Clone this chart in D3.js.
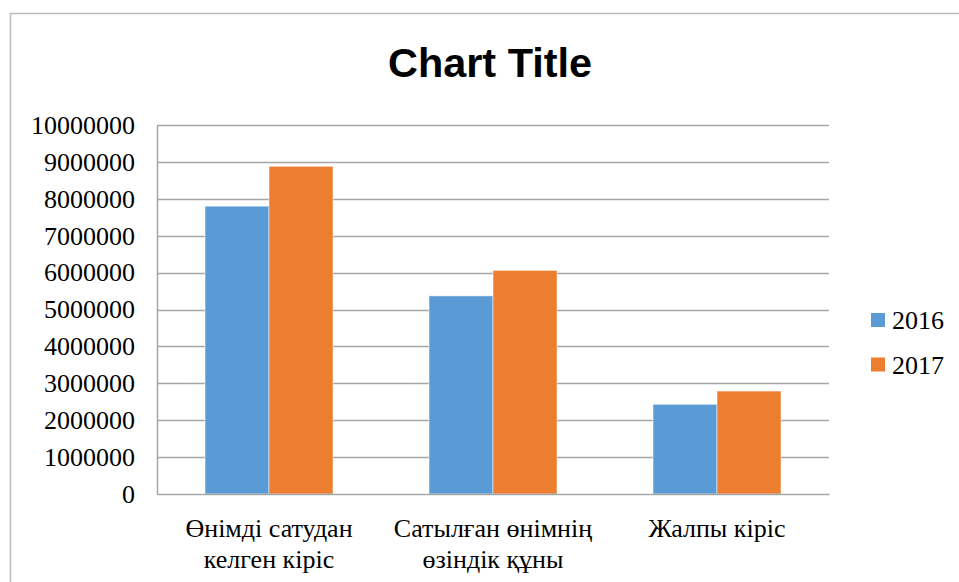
<!DOCTYPE html>
<html>
<head>
<meta charset="utf-8">
<script src="https://cdn.jsdelivr.net/npm/d3@7"></script>
<style>
  body { margin: 0; background: #fff; }
  svg { display: block; }
  .serif { font-family: "Liberation Serif", "Times New Roman", Tinos, "DejaVu Serif", serif; }
</style>
</head>
<body>
<svg width="959" height="582"></svg>
<script>
const categories = [["Өнімді сатудан", "келген кіріс"], ["Сатылған өнімнің", "өзіндік құны"], ["Жалпы кіріс"]];
const seriesNames = ["2016", "2017"];
const values2016 = [7800000, 5370000, 2430000];
const values2017 = [8880000, 6060000, 2790000];
const yTicks = [0, 1000000, 2000000, 3000000, 4000000, 5000000, 6000000, 7000000, 8000000, 9000000, 10000000];
const colors = ["#5B9BD5", "#ED7D31"];

const svg = d3.select("svg");

// outer chart border (only top/left visible)
svg.append("line").attr("x1", 10.5).attr("x2", 10.5).attr("y1", 13).attr("y2", 582)
    .attr("stroke", "#bdbdbd").attr("stroke-width", 1.5);
svg.append("line").attr("x1", 10).attr("x2", 959).attr("y1", 13.5).attr("y2", 13.5)
    .attr("stroke", "#bdbdbd").attr("stroke-width", 1.5);

svg.append("text")
    .attr("x", 490).attr("y", 77)
    .attr("text-anchor", "middle")
    .style("font-family", "'Liberation Sans', Arial, sans-serif")
    .attr("font-weight", "bold")
    .attr("font-size", 40)
    .attr("textLength", 204)
    .attr("lengthAdjust", "spacingAndGlyphs")
    .text("Chart Title");

const plotLeft = 157, plotRight = 829, plotTop = 125, plotBottom = 494;

const y = d3.scaleLinear().domain([0, 10000000]).range([plotBottom, plotTop]);
const x0 = d3.scaleBand().domain(d3.range(categories.length)).range([plotLeft, plotRight])
    .paddingInner(0.4286).paddingOuter(0.2143);
const x1 = d3.scaleBand().domain(d3.range(seriesNames.length)).range([0, x0.bandwidth()]);

// gridlines
svg.append("g").selectAll("line").data(yTicks.filter(d => d > 0)).join("line")
    .attr("x1", plotLeft).attr("x2", plotRight)
    .attr("y1", d => Math.round(y(d)) + 0.5).attr("y2", d => Math.round(y(d)) + 0.5)
    .attr("stroke", "#a6a6a6").attr("stroke-width", 1.5);

// y axis
const yAxis = svg.append("g")
    .attr("transform", `translate(${plotLeft},0)`)
    .call(d3.axisLeft(y).tickValues(yTicks).tickSize(0).tickPadding(22).tickFormat(d3.format("d")))
    .attr("font-family", null).attr("font-size", null);
yAxis.select(".domain").attr("stroke", "#a6a6a6").attr("stroke-width", 1.5);
yAxis.selectAll("text")
    .attr("class", "serif").style("font-size", "26px").attr("fill", "#000");

// bars
const data = categories.map((c, i) => [values2016[i], values2017[i]]);
svg.append("g").selectAll("g").data(data).join("g")
    .attr("transform", (d, i) => `translate(${x0(i)},0)`)
    .selectAll("rect").data(d => d).join("rect")
    .attr("x", (d, j) => x1(j))
    .attr("y", d => y(d))
    .attr("width", x1.bandwidth())
    .attr("height", d => plotBottom - y(d))
    .attr("fill", (d, j) => colors[j])
    .attr("stroke", "#fff").attr("stroke-opacity", 0.5).attr("stroke-width", 1);

// x axis
const xAxis = svg.append("g")
    .attr("transform", `translate(0,${plotBottom})`)
    .call(d3.axisBottom(x0).tickSize(0).tickFormat(""))
    .attr("font-family", null).attr("font-size", null);
xAxis.select(".domain").attr("stroke", "#a6a6a6").attr("stroke-width", 1.5);
xAxis.selectAll(".tick").each(function(d, i) {
    const t = d3.select(this).append("text")
        .attr("class", "serif")
        .attr("text-anchor", "middle")
        .style("font-size", "26px").attr("fill", "#000");
    categories[i].forEach((line, k) => {
        t.append("tspan").attr("x", 0).attr("y", 43 + k * 31).text(line);
    });
});

// legend
const legend = svg.append("g").selectAll("g").data(seriesNames).join("g")
    .attr("transform", (d, i) => `translate(871,${313 + i * 44.5})`);
legend.append("rect").attr("width", 14).attr("height", 14).attr("fill", (d, i) => colors[i]);
legend.append("text").attr("class", "serif").attr("x", 21).attr("y", 16)
    .style("font-size", "26px").attr("fill", "#000")
    .text(d => d);
</script>
</body>
</html>
